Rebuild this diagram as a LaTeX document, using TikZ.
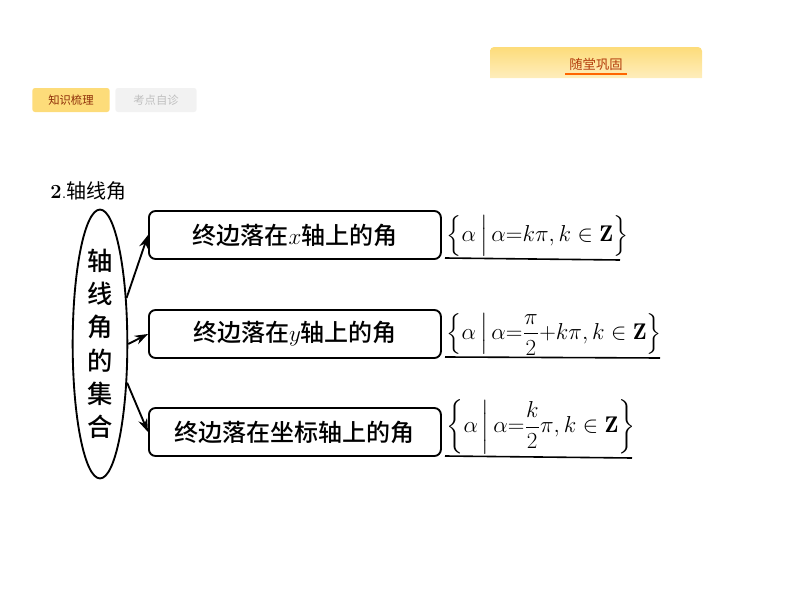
\documentclass[tikz,border=0pt]{standalone}
\usepackage{fontspec}
\usepackage{amsmath,amssymb}
\newfontfamily\cjk{Noto Sans CJK SC}
\newfontfamily\cjkb{Noto Sans CJK SC Medium}
\usetikzlibrary{arrows.meta,shapes.geometric}
\definecolor{tabY}{HTML}{FDDC7A}
\definecolor{tabG}{HTML}{F2F2F2}
\definecolor{txtR}{HTML}{B23A0A}
\tikzset{
  box/.style={draw,line width=1.4pt,rounded corners=5pt,minimum width=219pt,minimum height=36pt,anchor=west,font=\cjkb\fontsize{18}{21}\selectfont},
  arr/.style={line width=1.4pt,-{Stealth[length=10pt,width=7pt]}},
  setl/.style={anchor=south west,inner sep=1pt,font=\fontsize{17}{20}\selectfont},
  uline/.style={line width=1.2pt}
}
\begin{document}
\begin{tikzpicture}[x=0.75pt,y=-0.75pt]
\useasboundingbox (0,0) rectangle (794,596);
% header
\shade[top color=tabY,bottom color=tabY!50] (490,50) [rounded corners=3pt] -- (490,47) -- (702,47) [sharp corners] -- (702,78) -- (490,78) -- cycle;
\node[font=\cjk\fontsize{10}{12}\selectfont,text=txtR] (h1) at (596,64) {随堂巩固};
\draw[orange!80!red,line width=0.8pt] (565,74) -- (627,74);
\node[fill=tabY,rounded corners=2pt,minimum width=58pt,minimum height=18pt,font=\cjk\fontsize{8.5}{10}\selectfont,text=txtR!80!black] (t1) at (71,100) {知识梳理};
\node[fill=tabG,rounded corners=2pt,minimum width=61pt,minimum height=18pt,font=\cjk\fontsize{8.5}{10}\selectfont,text=black!25] (t2) at (156,100) {考点自诊};
\node[anchor=west,inner sep=0pt,font=\fontsize{15}{17}\selectfont] (title) at (50,191) {\textbf{2}.{\cjk 轴线角}};
% ellipse
\node[draw,ellipse,line width=1.4pt,minimum width=41pt,minimum height=175pt,inner sep=0pt,align=center,font=\cjkb\fontsize{19}{25}\selectfont] (E) at (100,344) {轴\\线\\角\\的\\集\\合};
\node[box] (b1) at (148,235) {终边落在$x$轴上的角};
\node[box] (b2) at (148,334) {终边落在$y$轴上的角};
\node[box] (b3) at (148,432) {终边落在坐标轴上的角};
\draw[arr] (E.60) -- (b1.west);
\draw[arr] (E.east) -- (b2.west);
\draw[arr] (E.-55) -- (b3.west);
\node[setl] (s1) at (445,258) {$\Bigl\{\alpha\,\Bigl|\,\alpha{=}k\pi,k\in\mathbf{Z}\Bigr\}$};
\node[setl] (s2) at (445,357) {$\left\{\alpha\,\middle|\,\alpha{=}\dfrac{\pi}{2}{+}k\pi,k\in\mathbf{Z}\right\}$};
\node[setl] (s3) at (445,456) {$\left\{\alpha\,\middle|\,\alpha{=}\dfrac{k}{2}\pi,k\in\mathbf{Z}\right\}$};
\draw[uline] (s1.south west) -- (620,260);
\draw[uline] (s2.south west) -- (660,358);
\draw[uline] (s3.south west) -- (632,458);
\end{tikzpicture}
\end{document}
